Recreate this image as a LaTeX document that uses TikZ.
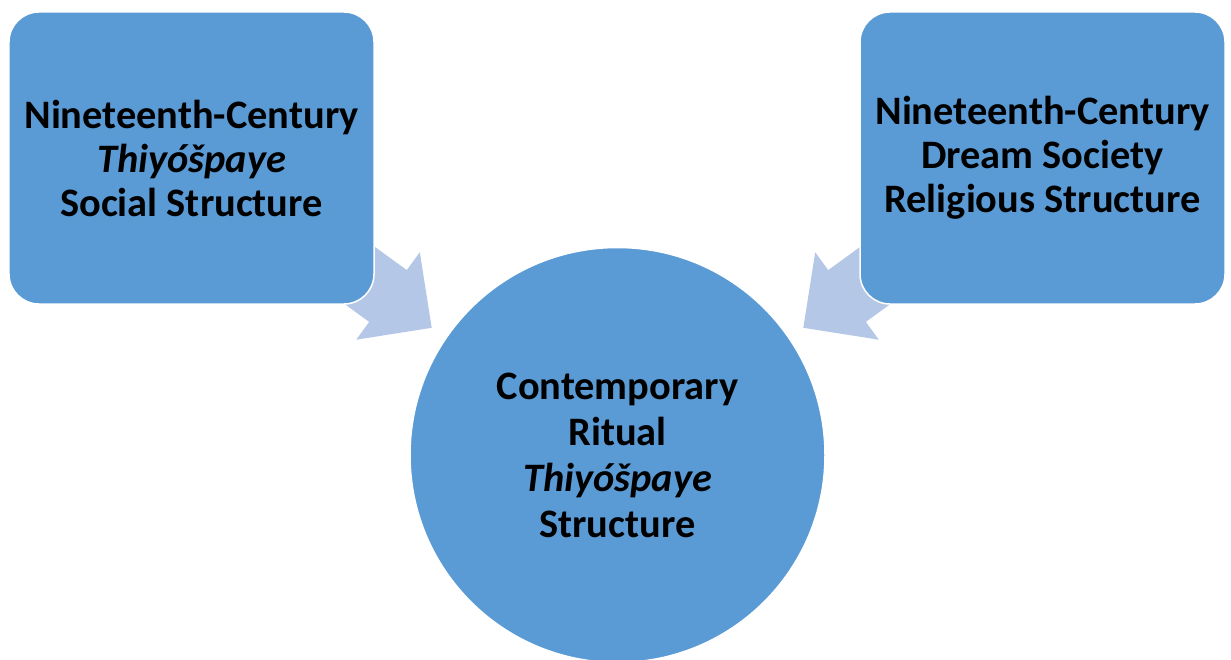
\documentclass[tikz,border=0pt]{standalone}
\usepackage{fontspec}
\setmainfont{Carlito}
\definecolor{boxblue}{HTML}{5B9BD5}
\definecolor{arrowblue}{HTML}{B4C7E7}
\begin{document}
\begin{tikzpicture}[x=1bp,y=-1bp,
  lbl/.style={font=\fontsize{40.4bp}{44bp}\selectfont\bfseries, align=center, text=black},
  sqbox/.style={lbl, fill=boxblue, draw=white, line width=1.5bp, rounded corners=30bp,
    minimum width=365bp, minimum height=292bp, inner sep=0pt},
  bigcirc/.style={lbl, font=\fontsize{40.4bp}{46bp}\selectfont\bfseries, circle, fill=boxblue, draw=white, line width=1.5bp,
    minimum size=415bp, inner sep=0pt},
  blockarrow/.style={fill=arrowblue, draw=none}]
\useasboundingbox (0,0) rectangle (1231,660);
\clip (0,0) rectangle (1231,660);
\fill[white] (0,0) rectangle (1231,660);
% block arrows (drawn beneath the boxes)
\coordinate (lt1) at (285.5,181.9);
\coordinate (ln1) at (406.8,270.1);
\coordinate (lb1) at (419.8,252.3);
\coordinate (ltip) at (431.7,327.8);
\coordinate (lb2) at (356.2,339.7);
\coordinate (ln2) at (369.2,321.9);
\coordinate (lt2) at (247.9,233.7);
\fill[blockarrow] (lt1) -- (ln1) -- (lb1) -- (ltip) -- (lb2) -- (ln2) -- (lt2) -- cycle;
\begin{scope}[xshift=1235bp, xscale=-1]
\coordinate (rt1) at (285.5,181.9);
\coordinate (rn1) at (406.8,270.1);
\coordinate (rb1) at (419.8,252.3);
\coordinate (rtip) at (431.7,327.8);
\coordinate (rb2) at (356.2,339.7);
\coordinate (rn2) at (369.2,321.9);
\coordinate (rt2) at (247.9,233.7);
\fill[blockarrow] (rt1) -- (rn1) -- (rb1) -- (rtip) -- (rb2) -- (rn2) -- (rt2) -- cycle;
\end{scope}
\node[sqbox] (social) at (191.5,158) {Nineteenth-Century\\\textit{Thiyóšpaye}\\Social Structure};
\node[sqbox] (dream) at (1042.5,158) {Nineteenth-Century\\Dream Society\\Religious Structure};
\node[bigcirc] (ritual) at (617.5,455) {Contemporary\\Ritual\\\textit{Thiyóšpaye}\\Structure};
\end{tikzpicture}
\end{document}
